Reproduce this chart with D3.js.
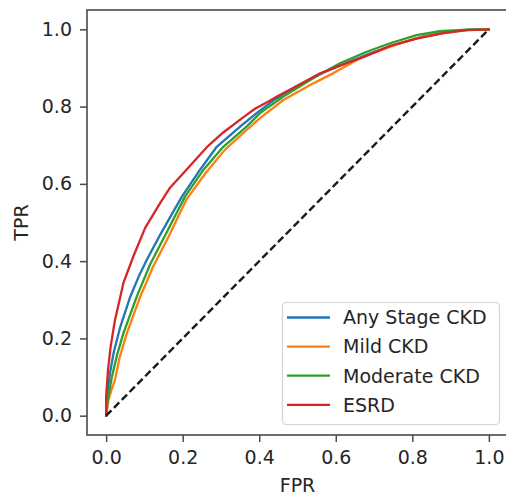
<!DOCTYPE html>
<html>
<head>
<meta charset="utf-8">
<script src="https://cdn.jsdelivr.net/npm/d3@7"></script>
<style>
  html, body { margin: 0; padding: 0; background: #fff; }
  svg { display: block; }
  text { font-family: "DejaVu Sans", sans-serif; fill: #262626; }
</style>
</head>
<body>
<svg id="chart" width="506" height="496"></svg>
<script>
// ---- data ----
const seriesNames = ["Any Stage CKD", "Mild CKD", "Moderate CKD", "ESRD"];
const seriesColors = ["#1f77b4", "#ff7f0e", "#2ca02c", "#d62728"];

const anyFpr = [0, 0.002, 0.010, 0.020, 0.037, 0.063, 0.085, 0.106, 0.141, 0.165, 0.198, 0.245, 0.289, 0.350, 0.393, 0.44, 0.50, 0.56, 0.62, 0.69, 0.76, 0.83, 0.90, 0.95, 1.0];
const anyTpr = [0, 0.05, 0.11, 0.165, 0.23, 0.308, 0.36, 0.403, 0.468, 0.51, 0.567, 0.636, 0.696, 0.748, 0.783, 0.818, 0.854, 0.885, 0.910, 0.938, 0.962, 0.982, 0.994, 0.999, 1.0];

const mildFpr = [0, 0.006, 0.015, 0.023, 0.035, 0.054, 0.089, 0.123, 0.163, 0.21, 0.26, 0.31, 0.37, 0.402, 0.463, 0.533, 0.593, 0.663, 0.742, 0.811, 0.881, 0.942, 1.0];
const mildTpr = [0, 0.04, 0.07, 0.092, 0.15, 0.213, 0.308, 0.386, 0.463, 0.56, 0.628, 0.688, 0.742, 0.770, 0.817, 0.856, 0.886, 0.925, 0.955, 0.977, 0.990, 0.998, 1.0];

const modFpr = [0, 0.004, 0.015, 0.028, 0.045, 0.080, 0.115, 0.160, 0.206, 0.254, 0.306, 0.367, 0.402, 0.463, 0.533, 0.611, 0.681, 0.742, 0.811, 0.872, 0.942, 1.0];
const modTpr = [0, 0.04, 0.10, 0.155, 0.213, 0.308, 0.392, 0.478, 0.567, 0.636, 0.696, 0.748, 0.783, 0.826, 0.869, 0.912, 0.942, 0.964, 0.985, 0.995, 0.999, 1.0];

const esrdFpr = [0, 0.0, 0.005, 0.012, 0.023, 0.045, 0.071, 0.102, 0.141, 0.167, 0.211, 0.263, 0.306, 0.358, 0.390, 0.424, 0.450, 0.507, 0.559, 0.611, 0.672, 0.742, 0.811, 0.881, 0.942, 1.0];
const esrdTpr = [0, 0.05, 0.12, 0.18, 0.247, 0.343, 0.412, 0.486, 0.55, 0.59, 0.638, 0.695, 0.733, 0.772, 0.795, 0.813, 0.828, 0.858, 0.886, 0.906, 0.928, 0.957, 0.976, 0.990, 0.998, 1.0];

const chanceFpr = [0, 1];
const chanceTpr = [0, 1];

const tickValues = [0, 0.2, 0.4, 0.6, 0.8, 1.0];
const xLabel = "FPR";
const yLabel = "TPR";

// ---- layout ----
const svg = d3.select("#chart");
const mLeft = 87, mRight = 508, mTop = 10, mBottom = 435;
const x = d3.scaleLinear().domain([-0.05, 1.05]).range([mLeft, mRight]);
const y = d3.scaleLinear().domain([-0.05, 1.05]).range([mBottom, mTop]);
const fontSize = 19;

svg.append("defs").append("clipPath").attr("id", "clip")
  .append("rect").attr("x", mLeft).attr("y", mTop).attr("width", mRight - mLeft).attr("height", mBottom - mTop);

const plot = svg.append("g").attr("clip-path", "url(#clip)");

const line = d3.line().x(d => x(d[0])).y(d => y(d[1]));

const series = [
  [anyFpr, anyTpr],
  [mildFpr, mildTpr],
  [modFpr, modTpr],
  [esrdFpr, esrdTpr]
];

series.forEach((s, i) => {
  const pts = s[0].map((f, j) => [f, s[1][j]]);
  plot.append("path").datum(pts)
    .attr("d", line)
    .attr("fill", "none")
    .attr("stroke", seriesColors[i])
    .attr("stroke-width", 2.3)
    .attr("stroke-linejoin", "round")
    .attr("stroke-linecap", "square");
});

// chance line
plot.append("path")
  .datum(chanceFpr.map((f, j) => [f, chanceTpr[j]]))
  .attr("d", line)
  .attr("fill", "none")
  .attr("stroke", "#1a1a1a")
  .attr("stroke-width", 2.4)
  .attr("stroke-dasharray", "7.5,3.6");

// axes
const xAxis = d3.axisBottom(x).tickValues(tickValues).tickFormat(d3.format(".1f"))
  .tickSize(7).tickPadding(9).tickSizeOuter(0);
const yAxis = d3.axisLeft(y).tickValues(tickValues).tickFormat(d3.format(".1f"))
  .tickSize(7).tickPadding(8).tickSizeOuter(0);

const gx = svg.append("g").attr("transform", `translate(0,${mBottom})`).call(xAxis);
const gy = svg.append("g").attr("transform", `translate(${mLeft},0)`).call(yAxis);
[gx, gy].forEach(g => {
  g.select(".domain").remove();
  g.selectAll(".tick line").attr("stroke", "#4a4a4a").attr("stroke-width", 1.5);
  g.selectAll(".tick text").attr("font-size", fontSize).attr("font-family", "DejaVu Sans").attr("fill", "#262626");
});

// frame
svg.append("rect")
  .attr("x", mLeft).attr("y", mTop)
  .attr("width", mRight - mLeft).attr("height", mBottom - mTop)
  .attr("fill", "none").attr("stroke", "#4a4a4a").attr("stroke-width", 1.6);

// labels
svg.append("text").attr("x", (mLeft + mRight) / 2).attr("y", 492)
  .attr("text-anchor", "middle").attr("font-size", fontSize).text(xLabel);
svg.append("text")
  .attr("transform", `translate(28,${(mTop + mBottom) / 2}) rotate(-90)`)
  .attr("text-anchor", "middle").attr("font-size", fontSize).text(yLabel);

// legend
const lg = svg.append("g");
lg.append("rect").attr("x", 282.5).attr("y", 302.5).attr("width", 217).attr("height", 122)
  .attr("rx", 4).attr("fill", "#fff").attr("fill-opacity", 0.85)
  .attr("stroke", "#d4d4d4").attr("stroke-width", 1.2);
seriesNames.forEach((name, i) => {
  const yy = 317.5 + i * 29.1;
  lg.append("line").attr("x1", 287).attr("x2", 330).attr("y1", yy).attr("y2", yy)
    .attr("stroke", seriesColors[i]).attr("stroke-width", 2.3);
  lg.append("text").attr("x", 343).attr("y", yy).attr("dy", "0.36em")
    .attr("font-size", fontSize).text(name);
});
</script>
</body>
</html>
